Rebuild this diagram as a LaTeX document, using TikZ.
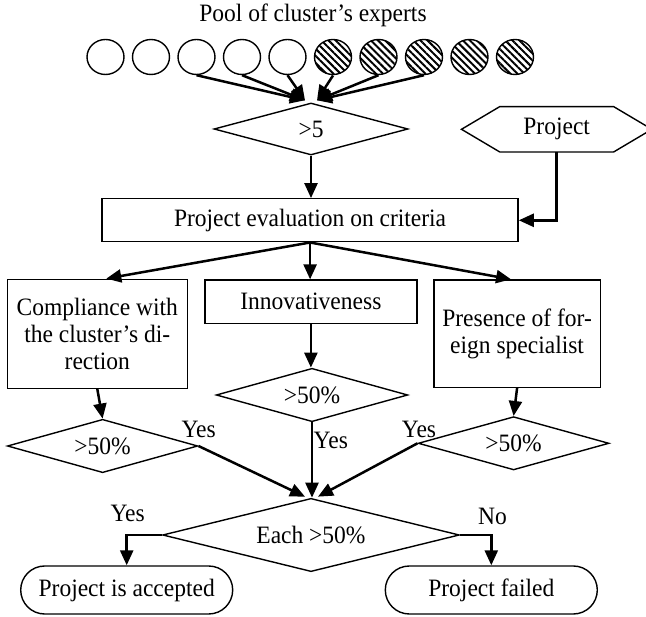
\documentclass[tikz,border=0pt]{standalone}
\usepackage{fontspec}
\setmainfont{Liberation Serif}[FakeStretch=0.94]
\usetikzlibrary{shapes.geometric,shapes.misc,arrows.meta,patterns.meta,calc}
\begin{document}
\begin{tikzpicture}[x=1pt,y=-1pt,
  every node/.style={font=\fontsize{25}{26.7}\selectfont},
  box/.style={draw, line width=1.4pt, inner sep=0pt, align=center},
  dec/.style={draw, diamond, line width=1.4pt, inner sep=0pt, aspect=3},
  term/.style={draw, rounded rectangle, line width=1.4pt, minimum width=212pt, minimum height=48pt, inner sep=0pt},
  expert/.style={draw, ellipse, line width=1.4pt, minimum width=37pt, minimum height=35pt, inner sep=0pt},
  hatched/.style={expert, pattern={Lines[angle=-45,distance=5pt,line width=2pt]}},
  flow/.style={line width=2.5pt, -{Triangle[length=15pt,width=13pt]}},
  lbl/.style={inner sep=0pt}
]
\useasboundingbox (0,0) rectangle (646,617);

% pool of experts
\node[lbl] (title) at (313,15) {Pool of cluster’s experts};
\foreach \i/\x in {1/105.5,2/151,3/196.5,4/242,5/287.5}
  \node[expert] (e\i) at (\x,57) {};
\foreach \i/\x in {6/333,7/378.5,8/424,9/469.5,10/515}
  \node[hatched] (e\i) at (\x,57) {};

% selection and evaluation
\node[dec, minimum width=194pt, minimum height=52pt] (d5) at (311,129) {>5};
\node[lbl, minimum width=190pt, minimum height=45pt] (proj) at (556.7,129.3) {Project};
\draw[line width=1.4pt] (proj.west) -- ($(proj.north west)+(38.3,0)$) -- ($(proj.north east)+(-38.3,0)$)
  -- (proj.east) -- ($(proj.south east)+(-38.3,0)$) -- ($(proj.south west)+(38.3,0)$) -- cycle;
\node[box, minimum width=416pt, minimum height=43pt] (eval) at (310.1,220.3) {Project evaluation on criteria};

% criteria
\node[box, minimum width=180pt, minimum height=109pt] (comp) at (97.3,333.8) {Compliance with\\the cluster’s di-\\rection};
\node[box, minimum width=212pt, minimum height=43.3pt] (innov) at (310.9,301.7) {Innovativeness};
\node[box, minimum width=166.4pt, minimum height=107.3pt] (pres) at (517.1,333.7) {Presence of for-\\eign specialist};

\node[dec, minimum width=190.4pt, minimum height=53.4pt] (lft) at (102.6,446) {>50\%};
\node[dec, minimum width=191.6pt, minimum height=53.4pt] (mid) at (312,395) {>50\%};
\node[dec, minimum width=190.8pt, minimum height=53.3pt] (rgt) at (513.6,443.3) {>50\%};

% final decision
\node[dec, minimum width=296.7pt, minimum height=73.3pt, aspect=4] (each) at (311,535) {Each >50\%};
\node[term] (acc) at (126.7,590) {Project is accepted};
\node[term] (fail) at (491.3,590) {Project failed};

% labels
\node[lbl] (y1) at (198.7,429) {Yes};
\node[lbl] (y2) at (330.8,440) {Yes};
\node[lbl] (y3) at (419,429) {Yes};
\node[lbl] (y4) at (127.6,513) {Yes};
\node[lbl] (n1) at (492.6,516.7) {No};

% connectors
\coordinate (d5L) at ($(d5.north)+(-6,-2)$);
\coordinate (d5R) at ($(d5.north)+(6,-2)$);
\foreach \i in {3,4,5} \draw[flow] (e\i.south) -- (d5L);
\foreach \i in {6,7,8} \draw[flow] (e\i.south) -- (d5R);
\draw[flow] (d5.south) -- (d5.south |- eval.north);
\draw[flow] (proj.south) |- (eval.east);
\draw[flow] (eval.south) -- ($(comp.north)+(9,0)$);
\draw[flow] (eval.south) -- (eval.south |- innov.north);
\draw[flow] (eval.south) -- ($(pres.north)+(-6,0)$);
\draw[flow] (comp.south) -- (lft.north);
\draw[flow] (innov.south) -- (innov.south |- mid.north);
\draw[flow] (pres.south) -- (rgt.north);
\coordinate (eachL) at ($(each.north)+(-6,-1)$);
\coordinate (eachR) at ($(each.north)+(7,-1)$);
\draw[flow] (lft.east) -- (eachL);
\draw[flow] (mid.south) -- (mid.south |- each.north);
\draw[flow] (rgt.west) -- (eachR);
\draw[flow] (each.west) -| (acc.north);
\draw[flow] (each.east) -| (fail.north);
\end{tikzpicture}
\end{document}
